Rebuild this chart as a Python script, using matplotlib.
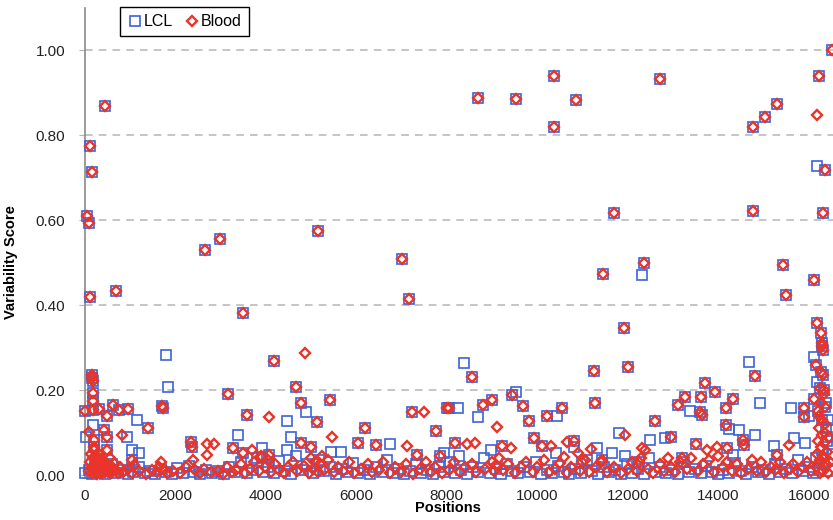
import numpy as np
import matplotlib
matplotlib.use('Agg')
import matplotlib.pyplot as plt

plt.rcParams['font.family'] = ['Liberation Sans', 'DejaVu Sans']

# points where LCL and Blood coincide (position, score)
shared_pts = [
    (66, .609), (110, .593), (130, .774), (155, .713), (130, .419), (463, .868), (706, .433),
    (2670, .529), (3000, .555), (3510, .381), (5160, .574), (7020, .508), (7170, .414),
    (8680, .887), (9530, .885), (10370, .939), (10370, .819), (10860, .882), (11700, .616),
    (11460, .473), (12360, .499), (11920, .346), (12710, .932), (14770, .819), (14770, .621),
    (15030, .842), (15300, .873), (16500, 1.0), (16220, .939), (16350, .718), (16310, .616),
    (15430, .494), (16110, .459), (15490, .424),
    (16180, .357), (16270, .334), (16290, .310), (16290, .304), (16300, .295), (16160, .259),
    (16270, .243), (16310, .235), (16250, .205), (16330, .200), (16110, .180), (16290, .129),
    (16350, .160), (16200, .150),
    (4190, .269), (4680, .208), (4790, .169), (5430, .176), (5140, .125), (6200, .111),
    (7240, .149), (8010, .157), (7770, .104), (8560, .231), (11260, .245), (12010, .255),
    (9450, .188), (9010, .176), (8790, .165), (9690, .162), (8060, .158), (11280, .169),
    (9820, .128), (10220, .140), (10550, .157), (3180, .190),
    (155, .235), (170, .228), (185, .222), (180, .193), (180, .174), (20, .151), (180, .152),
    (310, .155), (640, .165), (770, .153), (970, .155), (490, .139), (1720, .162), (1740, .158),
    (1410, .111), (3580, .141), (220, .082), (440, .106), (490, .090), (2360, .078), (2380, .066),
    (3290, .064), (3490, .052), (3930, .042), (490, .059), (1060, .035), (220, .066),
    (14810, .233), (13710, .217), (13930, .196), (13260, .183), (13100, .165), (13620, .184),
    (14330, .178), (14170, .158), (13600, .149), (13640, .141), (12600, .128), (14170, .118),
    (12960, .089), (13510, .072), (14190, .063), (14540, .082), (14560, .070), (15300, .047),
    (15890, .157), (15890, .137),
    (4790, .076), (5010, .067), (4080, .047), (6030, .076), (6440, .071), (7350, .047),
    (7840, .045), (8190, .075), (9220, .068), (9930, .088), (10110, .068), (10810, .081),
    (11430, .035), (10990, .031), (13190, .039), (12250, .031),
]

# LCL only
lcl_pts = [
    (16180, .727), (12320, .471), (1790, .282), (1850, .208), (1170, .129), (180, .118),
    (40, .090), (930, .090), (1040, .059), (1210, .052), (3380, .094), (3910, .064),
    (4900, .148), (4480, .128), (4570, .089), (6750, .073), (7950, .053), (4480, .059),
    (5450, .055), (5670, .055), (8390, .264), (9530, .196), (8240, .158), (10440, .140),
    (8700, .137), (11810, .100), (8980, .060), (10420, .052), (10810, .067), (11320, .063),
    (11650, .052), (11940, .045), (8280, .045), (14680, .267), (14920, .170), (13370, .151),
    (15600, .157), (14240, .108), (14460, .106), (14810, .094), (12490, .082), (12820, .086),
    (14330, .047), (15670, .086), (15910, .075), (15230, .068), (16110, .277), (16180, .219),
    (16380, .169), (16000, .140), (16380, .110), (16400, .090), (16420, .130),
]

lcl_low = [
    (20, .004), (90, .012), (160, .002), (230, .020), (300, .006), (380, .015), (450, .003),
    (520, .010), (610, .025), (700, .005), (820, .012), (950, .002), (1080, .008), (1200, .018),
    (1330, .004), (1450, .010), (1560, .002), (1680, .014), (1800, .006), (1930, .003),
    (2050, .016), (2180, .005), (2300, .022), (2420, .008), (2560, .003), (2690, .012),
    (2810, .004), (2950, .010), (3080, .002), (3200, .018), (3330, .006), (3450, .030),
    (3580, .004), (3700, .012), (3820, .040), (3950, .008), (4060, .020), (4180, .005),
    (4300, .032), (4420, .010), (4550, .003), (4680, .045), (4800, .012), (4920, .025),
    (5050, .004), (5170, .035), (5300, .010), (5420, .020), (5550, .003), (5680, .014),
    (5800, .006), (5930, .028), (6050, .004), (6180, .012), (6300, .002), (6430, .020),
    (6560, .008), (6680, .035), (6810, .004), (6930, .015), (7060, .003), (7190, .010),
    (7310, .025), (7440, .005), (7560, .012), (7690, .002), (7820, .018), (7940, .006),
    (8070, .030), (8190, .004), (8320, .012), (8440, .003), (8570, .020), (8700, .008),
    (8820, .040), (8950, .005), (9080, .015), (9200, .003), (9330, .025), (9450, .010),
    (9580, .004), (9700, .018), (9830, .006), (9960, .030), (10080, .003), (10210, .012),
    (10330, .005), (10460, .022), (10580, .008), (10710, .002), (10840, .015), (10960, .004),
    (11090, .035), (11210, .010), (11340, .003), (11470, .020), (11590, .006), (11720, .012),
    (11840, .002), (11970, .025), (12100, .005), (12220, .015), (12350, .003), (12470, .040),
    (12600, .008), (12720, .018), (12850, .004), (12980, .012), (13100, .002), (13230, .030),
    (13350, .006), (13480, .015), (13610, .004), (13730, .022), (13860, .008), (13980, .003),
    (14110, .012), (14240, .005), (14360, .028), (14490, .010), (14610, .003), (14740, .018),
    (14870, .006), (14990, .012), (15120, .002), (15240, .025), (15370, .008), (15490, .015),
    (15620, .004), (15750, .035), (15870, .010), (16000, .020), (16080, .005), (16150, .040),
    (16220, .012), (16280, .060), (16340, .025), (16400, .080), (16460, .010), (16520, .050),
]

# Blood only
blood_pts = [
    (16180, .847), (4880, .287), (4080, .137), (820, .094), (1100, .024), (2710, .073),
    (2870, .073), (2710, .047), (3710, .059), (110, .101), (5470, .089), (7130, .068),
    (7500, .149), (9110, .114), (11940, .094), (8450, .072), (8630, .075), (9420, .063),
    (10310, .068), (10590, .042), (10660, .078), (10900, .052), (11190, .061), (9090, .024),
    (12320, .063), (12380, .058), (13750, .059), (13970, .065), (15560, .071), (12880, .039),
]

blood_low = [
    (100, .010), (130, .030), (150, .050), (160, .020), (170, .005), (190, .040), (200, .015),
    (210, .060), (230, .025), (240, .008), (250, .045), (260, .018), (270, .035), (280, .003),
    (290, .028), (300, .012), (310, .050), (320, .022), (330, .006), (340, .038), (350, .015),
    (360, .027), (380, .004), (400, .020), (420, .010), (440, .032), (460, .006), (480, .018),
    (500, .025), (520, .008), (540, .014), (560, .040), (580, .005), (600, .020), (630, .010),
    (660, .028), (700, .012), (740, .004), (780, .020), (850, .008),
    (950, .015), (1050, .005), (1200, .010), (1350, .003), (1500, .012), (1600, .006),
    (1650, .020), (1700, .030), (1760, .015), (1820, .005), (1950, .010), (2100, .004),
    (2250, .018), (2400, .035), (2450, .012), (2550, .004), (2650, .015), (2800, .006),
    (2950, .010), (3050, .003), (3150, .020), (3250, .008), (3350, .012), (3450, .025),
    (3550, .005), (3650, .015), (3750, .030), (3850, .010), (3900, .045), (3980, .020),
    (4050, .035), (4120, .008), (4200, .025), (4300, .012), (4400, .004), (4500, .018),
    (4600, .030), (4700, .010), (4850, .022), (4950, .005), (5000, .040), (5050, .015),
    (5100, .030), (5150, .008), (5200, .025), (5250, .045), (5300, .012), (5380, .035),
    (5500, .006), (5600, .020), (5700, .010), (5850, .030), (5950, .004), (6100, .015),
    (6250, .025), (6350, .006), (6500, .012), (6600, .030), (6750, .005), (6850, .018),
    (7000, .008), (7100, .025), (7250, .003), (7400, .015), (7550, .030), (7650, .008),
    (7750, .020), (7900, .004), (8050, .012), (8150, .030), (8300, .006), (8400, .018),
    (8550, .025), (8650, .008), (8850, .015), (9000, .030), (9050, .010), (9150, .040),
    (9250, .012), (9350, .025), (9500, .005), (9650, .018), (9750, .030), (9900, .008),
    (10000, .020), (10150, .035), (10250, .006), (10400, .015), (10500, .028), (10650, .004),
    (10750, .020), (10950, .010), (11050, .035), (11150, .006), (11300, .018), (11400, .030),
    (11550, .008), (11700, .020), (11850, .004), (12000, .015), (12100, .030), (12200, .010),
    (12300, .040), (12450, .015), (12550, .005), (12700, .025), (12800, .010), (12950, .020),
    (13050, .006), (13150, .030), (13300, .015), (13400, .040), (13550, .010), (13650, .025),
    (13800, .035), (13900, .008), (14000, .045), (14100, .020), (14200, .030), (14300, .010),
    (14400, .025), (14500, .005), (14650, .015), (14750, .035), (14850, .010), (14950, .030),
    (15050, .006), (15150, .020), (15250, .012), (15350, .030), (15450, .005), (15550, .015),
    (15650, .025), (15750, .008), (15850, .020), (15950, .030), (16050, .010),
    (16150, .020), (16180, .050), (16200, .080), (16220, .110), (16240, .035), (16260, .065),
    (16280, .095), (16300, .010), (16320, .045), (16340, .075), (16360, .120), (16380, .025),
    (16400, .055), (16420, .005), (16440, .090), (16460, .030), (16230, .140), (16270, .170),
    (16330, .190), (16250, .005), (16350, .100), (16210, .025),
]

lcl = np.array(shared_pts + lcl_pts + lcl_low)
blood = np.array(shared_pts + blood_pts + blood_low)

blue = '#3D63D8'
red = '#E8342A'

fig = plt.figure(figsize=(8.33, 5.2), dpi=100)
ax = fig.add_axes([84.5 / 833, 42 / 520, 748.5 / 833, 470 / 520])

ax.plot(lcl[:, 0], lcl[:, 1], 's', ms=7.2, mfc='none', mec=blue, mew=1.2,
        label='LCL', clip_on=False, zorder=3)
ax.plot(blood[:, 0], blood[:, 1], 'D', ms=4.9, mfc='none', mec=red, mew=1.7,
        label='Blood', clip_on=False, zorder=4)

ax.set_xlim(0, 16530)
ax.set_ylim(-0.007, 1.099)
ax.set_xticks(np.arange(0, 16001, 2000))
ax.set_yticks(np.arange(0, 1.01, 0.2))
ax.set_yticklabels([f'{v:.2f}' for v in np.arange(0, 1.01, 0.2)])

for y in [0.2, 0.4, 0.6, 0.8, 1.0]:
    ax.axhline(y, color='#b5b5b5', lw=1.1, ls=(0, (5, 4)), zorder=1)

for s in ['top', 'right', 'bottom']:
    ax.spines[s].set_visible(False)
ax.spines['left'].set_color('#8a8a8a')
ax.spines['left'].set_linewidth(1.2)

ax.tick_params(axis='y', length=4, color='#b5b5b5', pad=10, labelsize=11, labelcolor='#222222')
ax.tick_params(axis='x', length=0, pad=8, labelsize=11, labelcolor='#222222')

ax.set_xlabel('Positions', fontsize=10.5, fontweight='bold')
ax.xaxis.set_label_coords(0.486, -0.05)
ax.set_ylabel('Variability Score', fontsize=10.5, fontweight='bold')
ax.yaxis.set_label_coords(-0.089, 0.46)

leg = ax.legend(loc='upper left', bbox_to_anchor=(0.047, 1.002), borderaxespad=0,
                ncol=2, fancybox=False, framealpha=1, edgecolor='black',
                handletextpad=0.05, columnspacing=0.7, handlelength=1.0,
                fontsize=11.5, borderpad=0.45)
leg.get_frame().set_linewidth(1.0)

fig.savefig('out.png', dpi=100)
